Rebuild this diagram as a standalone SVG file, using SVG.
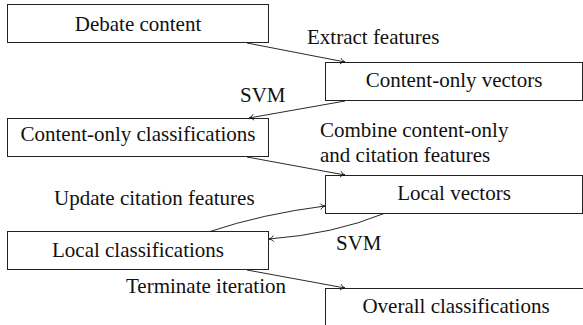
<svg xmlns="http://www.w3.org/2000/svg" width="583" height="325" viewBox="0 0 583 325">
<defs>
<style>
.box{fill:#fff;stroke:#222;stroke-width:1}
text{font-family:'Liberation Serif','DejaVu Serif',serif;font-size:21px;fill:#111}
.c{text-anchor:middle}
.e{fill:none;stroke:#111;stroke-width:0.9}
</style>
<marker id="ah" markerUnits="userSpaceOnUse" markerWidth="12" markerHeight="12" viewBox="-6 -6 12 12" refX="0" refY="0" orient="auto">
<path d="M-4.5,-3 C-3.5,-1 -1,-0.3 0,0 C-1,0.3 -3.5,1 -4.5,3" fill="none" stroke="#111" stroke-width="0.9"/>
</marker>
</defs>
<rect width="583" height="325" fill="#fff"/>
<g font-family="'Liberation Serif', 'DejaVu Serif', serif" font-size="21">
<g id="debate-content"><rect class="box" x="7.5" y="4.5" width="261" height="38"/><text class="c" x="138" y="31">Debate content</text></g>
<g id="content-only-vectors"><rect class="box" x="325.5" y="62.5" width="257" height="38"/><text class="c" x="454" y="87">Content-only vectors</text></g>
<g id="content-only-classifications"><rect class="box" x="7.5" y="118.5" width="261" height="38"/><text class="c" x="138" y="141">Content-only classifications</text></g>
<g id="local-vectors"><rect class="box" x="325.5" y="175.5" width="257" height="38"/><text class="c" x="454" y="200">Local vectors</text></g>
<g id="local-classifications"><rect class="box" x="7.5" y="231.5" width="261" height="38"/><text class="c" x="138" y="257">Local classifications</text></g>
<g id="overall-classifications"><rect class="box" x="325.5" y="288.5" width="262" height="45"/><text class="c" x="456" y="313">Overall classifications</text></g>
<g id="connectors">
<path class="e" d="M247,43 L345,62" marker-end="url(#ah)"/>
<text x="307" y="44">Extract features</text>
<path class="e" d="M345,101 L249,118" marker-end="url(#ah)"/>
<text x="240" y="102">SVM</text>
<path class="e" d="M247,157 L345,175" marker-end="url(#ah)"/>
<text x="320" y="136.5">Combine content-only</text>
<text x="320" y="161.5">and citation features</text>
<path class="e" d="M210,231.5 Q262,214 325,206" marker-end="url(#ah)"/>
<text x="54" y="205">Update citation features</text>
<path class="e" d="M384,213.5 Q334,234 269,239" marker-end="url(#ah)"/>
<text x="336" y="250">SVM</text>
<path class="e" d="M247,270 L345,288" marker-end="url(#ah)"/>
<text x="126" y="293">Terminate iteration</text>
</g>
</g>
</svg>
